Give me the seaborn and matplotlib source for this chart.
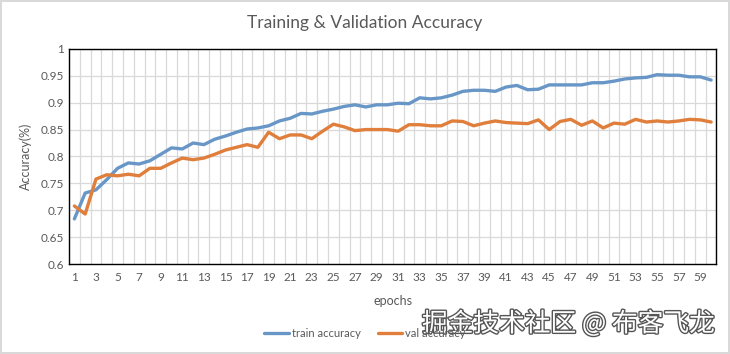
import matplotlib as mpl
mpl.use('Agg')
import matplotlib.pyplot as plt
import matplotlib.patheffects as pe
import seaborn as sns
import numpy as np
import pandas as pd

# values
epochs = list(range(1, 61))
train_acc = [0.684, 0.732, 0.738, 0.757, 0.778, 0.788, 0.786, 0.792, 0.804, 0.816,
             0.814, 0.825, 0.822, 0.832, 0.838, 0.845, 0.851, 0.853, 0.857, 0.866,
             0.871, 0.880, 0.879, 0.884, 0.888, 0.893, 0.896, 0.892, 0.896, 0.896,
             0.899, 0.898, 0.909, 0.907, 0.909, 0.914, 0.921, 0.923, 0.923, 0.921,
             0.929, 0.932, 0.924, 0.925, 0.933, 0.933, 0.933, 0.933, 0.937, 0.937,
             0.940, 0.944, 0.946, 0.947, 0.952, 0.951, 0.951, 0.948, 0.948, 0.942]
val_acc = [0.708, 0.693, 0.758, 0.766, 0.764, 0.767, 0.764, 0.778, 0.778, 0.788,
           0.797, 0.794, 0.797, 0.804, 0.812, 0.817, 0.822, 0.817, 0.845, 0.833,
           0.840, 0.840, 0.833, 0.847, 0.860, 0.855, 0.848, 0.850, 0.850, 0.850,
           0.847, 0.859, 0.859, 0.857, 0.857, 0.866, 0.865, 0.857, 0.862, 0.866,
           0.863, 0.862, 0.861, 0.868, 0.850, 0.865, 0.869, 0.858, 0.866, 0.853,
           0.862, 0.860, 0.869, 0.864, 0.866, 0.864, 0.866, 0.869, 0.868, 0.864]
series_names = ['train accuracy', 'val accuracy']
y_ticks = [0.6, 0.65, 0.7, 0.75, 0.8, 0.85, 0.9, 0.95, 1.0]
y_labels = ['0.6', '0.65', '0.7', '0.75', '0.8', '0.85', '0.9', '0.95', '1']

df = pd.DataFrame({'epoch': epochs * 2,
                   'acc': train_acc + val_acc,
                   'series': [series_names[0]] * 60 + [series_names[1]] * 60})

sns.set_style('white')
plt.rcParams['font.family'] = ['Lato', 'Noto Sans CJK SC', 'DejaVu Sans']

grey = '#595959'
fig = plt.figure(figsize=(7.3, 3.54), dpi=100)
fig.patch.set_edgecolor('#d9d9d9')
fig.patch.set_linewidth(1.5)
ax = fig.add_axes([0.0945, 0.254, 0.887, 0.608])

sns.lineplot(data=df, x='epoch', y='acc', hue='series',
             palette=['#6897c7', '#e07e3c'], linewidth=2.4, ax=ax, legend=False)

ax.set_xlim(0.5, 60.5)
ax.set_ylim(0.6, 1.0)
ax.set_yticks(y_ticks)
ax.set_yticklabels(y_labels)
ax.set_xticks(epochs[::2])
ax.set_xticks(np.arange(0.5, 61, 1), minor=True)
ax.grid(True, which='minor', axis='x', color='#d9d9d9', linewidth=0.9)
ax.grid(True, which='major', axis='y', color='#d9d9d9', linewidth=0.9)
ax.set_axisbelow(True)
ax.tick_params(which='both', length=0, colors=grey, labelsize=8.5)
ax.tick_params(axis='x', pad=6)
for s in ax.spines.values():
    s.set_color('black')
    s.set_linewidth(1.0)

ax.set_xlabel('epochs', color=grey, fontsize=9, labelpad=8)
ax.set_ylabel('Accuracy(%)', color=grey, fontsize=9, labelpad=6)
fig.text(0.5, 0.935, 'Training & Validation Accuracy', ha='center', va='center',
         color=grey, fontsize=12.5)

handles = [plt.Line2D([], [], color='#6897c7', linewidth=2.4),
           plt.Line2D([], [], color='#e07e3c', linewidth=2.4)]
leg = fig.legend(handles, series_names, loc='center', bbox_to_anchor=(0.5, 0.057),
                 ncol=2, frameon=False, fontsize=8, handlelength=2.2,
                 handletextpad=0.3, columnspacing=1.5)
for t in leg.get_texts():
    t.set_color(grey)

fig.text(0.98, 0.085, '掘金技术社区 @ 布客飞龙', ha='right', va='center', fontsize=18.5,
         color='white', family=['Noto Sans CJK SC', 'DejaVu Sans'],
         path_effects=[pe.withStroke(linewidth=2, foreground='#555555')])

fig.savefig('out.png', dpi=100)
